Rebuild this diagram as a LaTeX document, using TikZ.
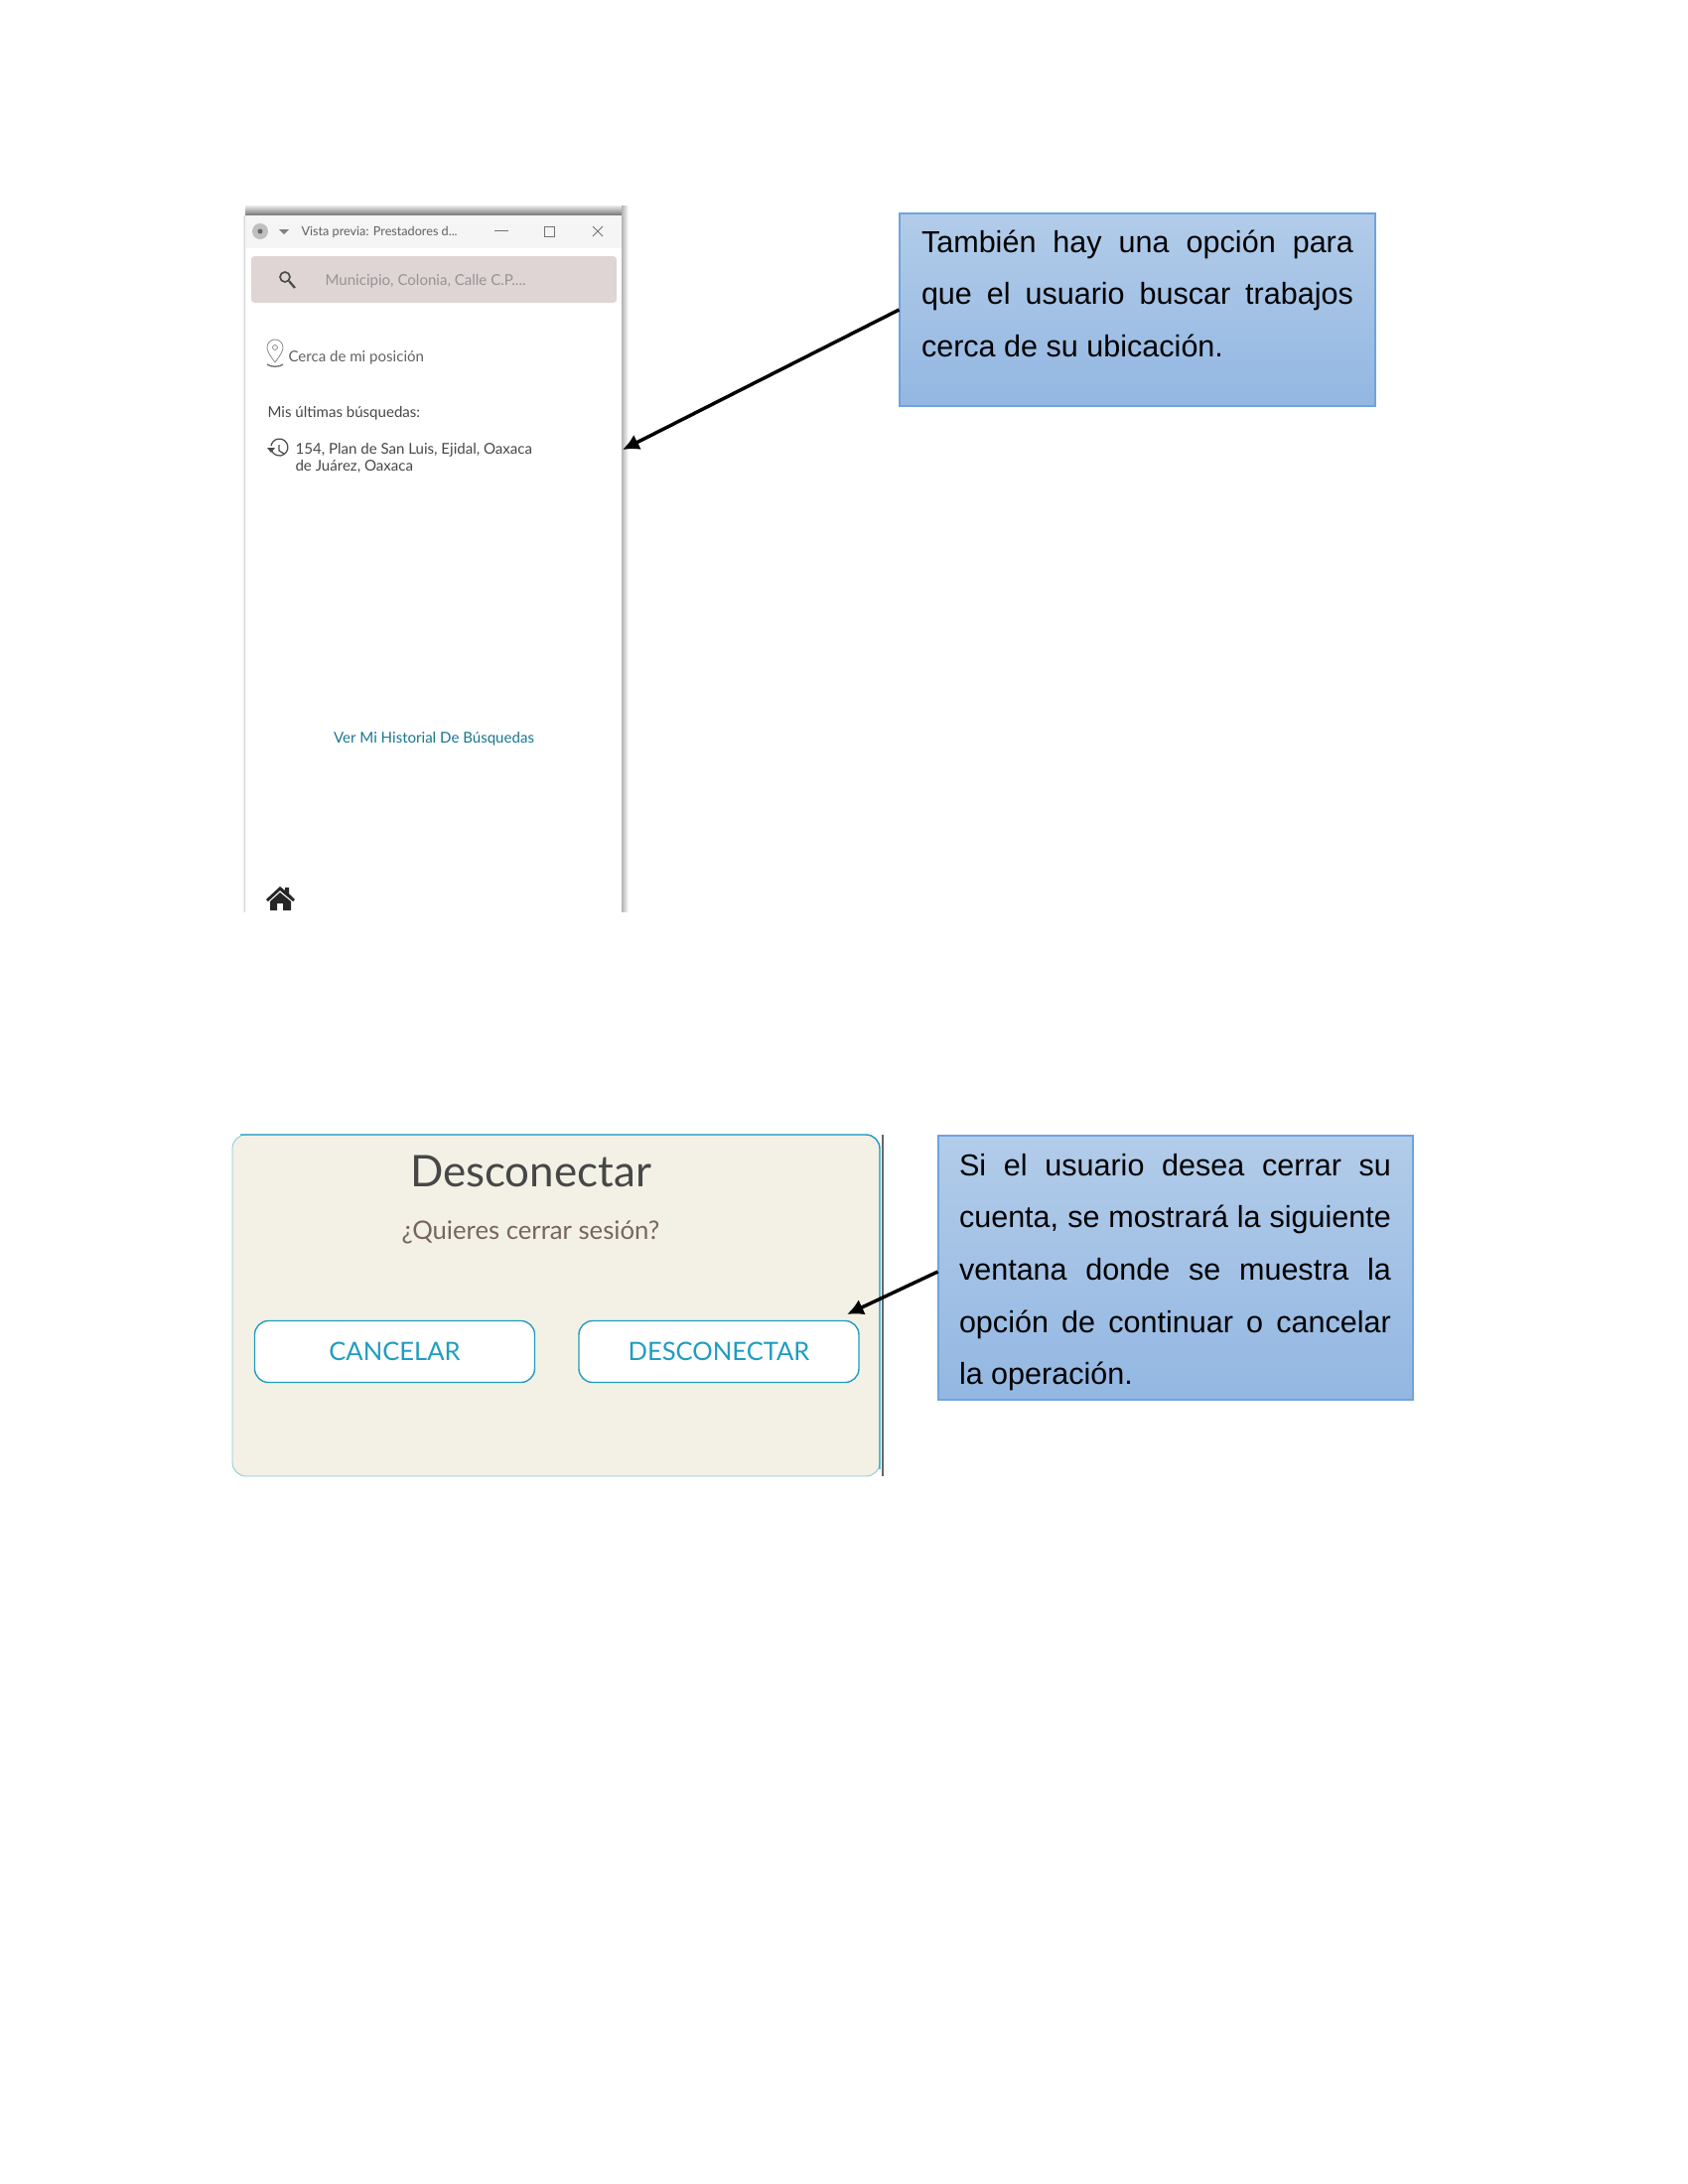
\documentclass[tikz,border=0pt]{standalone}
\usepackage{fontspec}
\setmainfont{Liberation Sans}
\newfontfamily\lato{Lato}
\usepackage{xcolor}
\usetikzlibrary{calc,arrows.meta}
\tikzset{>={Latex[length=6bp,width=6bp]}}
\definecolor{boxtop}{HTML}{B2CCE9}
\definecolor{boxbot}{HTML}{93B7E2}
\definecolor{boxline}{HTML}{6FA3DC}
\definecolor{teal}{HTML}{209DBF}
\definecolor{cream}{HTML}{F3F1E5}
\definecolor{searchbar}{HTML}{DFD5D5}
\definecolor{pregunta}{HTML}{76665E}
\tikzset{
  helpbox/.style={draw=boxline, line width=0.4bp, top color=boxtop, bottom color=boxbot, inner sep=0pt},
  helptext/.style={anchor=north west, text width=435*0.36bp, align=justify, inner sep=0pt,
    font=\fontsize{11bp}{18.95bp}\selectfont},
  wintext/.style={anchor=west, inner sep=0pt, text=black!62, font=\lato\fontsize{5.42bp}{6.2bp}\selectfont},
  dlgbutton/.style={draw=teal, line width=0.5bp, fill=white, rounded corners=5bp, inner sep=0pt,
    minimum width=282*0.36bp, minimum height=62*0.36bp, text=teal, font=\lato\fontsize{9.2bp}{12bp}\selectfont},
  wintool/.style={draw=black!55, line width=0.3bp}
}
\begin{document}
\begin{tikzpicture}[x=0.36bp, y=-0.36bp]
  \useasboundingbox (0, 0) rectangle (1700, 2200);

  % preview window
  \shade[top color=black!8, bottom color=black!55] (247, 207) rectangle (628, 217);
  \shade[left color=black!30, right color=white] (626, 207) rectangle (633, 918);
  \shade[left color=white, right color=black!22] (244, 217) rectangle (247, 918);
  \fill[black!4] (247, 217) rectangle (626, 250);
  \fill[searchbar, rounded corners=1.2bp] (253, 258) rectangle (621, 305);
  \fill[black!25] (262, 233) circle (8);
  \fill[black!60] (262, 233) circle (2.5);
  \fill[black!50] (281, 231) -- (291, 231) -- (286, 236) -- cycle;
  \draw[wintool] (498, 232) -- (512, 232);
  \draw[wintool] (548, 228) rectangle (558, 238);
  \draw[wintool] (597, 228) -- (607, 238) (597, 238) -- (607, 228);
  \node[wintext, font=\lato\fontsize{4.55bp}{6bp}\selectfont] (wintitle) at (303, 234) {Vista previa: Prestadores d...};

  \draw[black!70, line width=0.6bp] (287, 279) circle (5);
  \draw[black!70, line width=0.8bp] (291, 283) -- (297, 290);
  \node[wintext, text=black!42] (wsearch) at (327, 283) {Municipio, Colonia, Calle C.P....};

  \draw[black!45, line width=0.3bp] (277, 365) .. controls (271, 357) and (269, 353) .. (269, 350)
    arc (180:360:8) .. controls (285, 353) and (283, 357) .. (277, 365);
  \draw[black!45, line width=0.3bp] (277, 350) circle (2.5);
  \draw[black!55, line width=0.5bp] (269, 367) .. controls (272, 370) and (282, 370) .. (285, 367);
  \node[wintext] (wcerca) at (290, 360) {Cerca de mi posición};
  \node[wintext, text=black!72] (wmis) at (269, 416) {Mis últimas búsquedas:};

  \draw[black!70, line width=0.45bp] (273, 452) arc (170:-170:8.5);
  \draw[black!70, line width=0.45bp] (281, 448) -- (281, 454) -- (286, 457);
  \fill[black!70] (269, 451) -- (277, 451) -- (273, 456) -- cycle;
  \node[wintext, text=black!72, align=left, font=\lato\fontsize{5.42bp}{6.1bp}\selectfont, anchor=north west]
    (wultima) at (297, 445.5) {154, Plan de San Luis, Ejidal, Oaxaca\\de Juárez, Oaxaca};

  \node[wintext, anchor=center, text=teal!75!black] (whistorial) at (437, 744) {Ver Mi Historial De Búsquedas};

  % home icon
  \fill[black!85] (268, 906) -- (282, 893) -- (287, 897) -- (287, 894) -- (291, 894) -- (291, 900)
    -- (297, 906) -- (295, 908) -- (282, 897) -- (270, 908) -- cycle;
  \fill[black!85] (272, 908) -- (282, 899) -- (293, 908) -- (293, 917) -- (285, 917) -- (285, 910)
    -- (279, 910) -- (279, 917) -- (272, 917) -- cycle;

  % first note
  \node[helpbox, minimum width=479*0.36bp, minimum height=194*0.36bp] (ayudauno) at (1145.5, 312) {};
  \node[helptext] (textouno) at ($(ayudauno.north west)+(22, 16.5)$) {También hay una opción para\linebreak
    que el usuario buscar trabajos\linebreak cerca de su ubicación.};
  \coordinate (puntauno) at (627, 453);
  \draw[->, line width=1.25bp] (ayudauno.west) -- (puntauno);

  % logout dialog
  \node[draw=teal!55, line width=0.3bp, fill=cream, rounded corners=5bp, inner sep=0pt,
    minimum width=652*0.36bp, minimum height=344*0.36bp] (dialogo) at (560, 1315) {};
  \draw[teal, line width=0.5bp, rounded corners=5bp] (242, 1143) -- (886, 1143) -- (886, 1480);
  \draw[black!60, line width=0.5bp] (889, 1143) -- (889, 1487);
  \node[text=black!72, inner sep=0pt, font=\lato\fontsize{15.8bp}{18bp}\selectfont] (dtitulo) at (534.5, 1180) {Desconectar};
  \node[text=pregunta, inner sep=0pt, font=\lato\fontsize{9.25bp}{11bp}\selectfont] (dpregunta) at (534.5, 1241) {¿Quieres cerrar sesión?};
  \node[dlgbutton] (cancelar) at (397.5, 1361.5) {CANCELAR};
  \node[dlgbutton] (desconectar) at (724, 1361.5) {DESCONECTAR};

  % second note
  \node[helpbox, minimum width=478*0.36bp, minimum height=266*0.36bp] (ayudados) at (1184, 1277) {};
  \node[helptext] (textodos) at ($(ayudados.north west)+(21, 18)$) {Si el usuario desea cerrar su\linebreak
    cuenta, se mostrará la siguiente\linebreak ventana donde se muestra la\linebreak
    opción de continuar o cancelar\linebreak la operación.};
  \coordinate (puntados) at (853, 1324);
  \draw[->, line width=1.25bp] ($(ayudados.west)+(0, 4)$) -- (puntados);
\end{tikzpicture}
\end{document}
